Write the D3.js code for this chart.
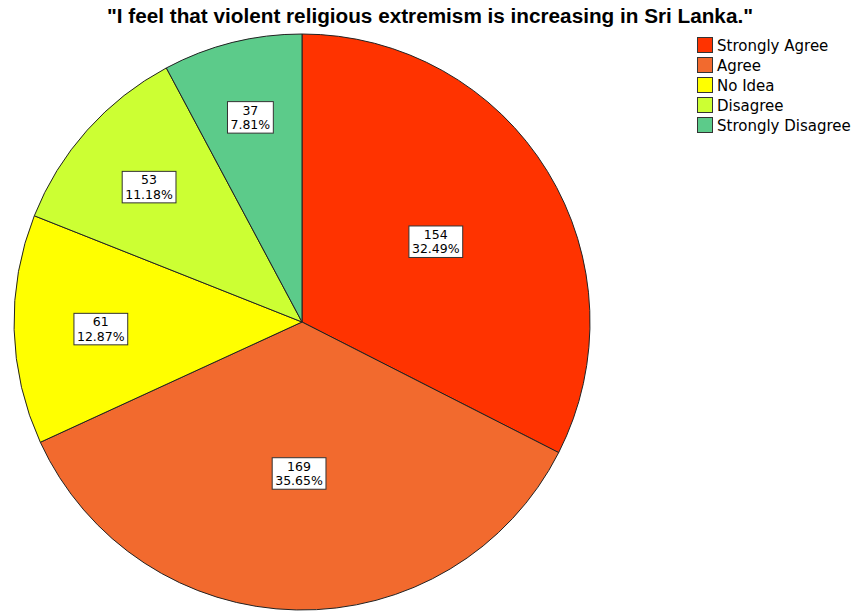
<!DOCTYPE html>
<html><head><meta charset="utf-8">
<script src="https://cdn.jsdelivr.net/npm/d3@7"></script>
<style>body{margin:0;background:#fff}svg{display:block}</style>
</head><body>
<svg id="c" width="859" height="612"></svg>
<script>
const title = '"I feel that violent religious extremism is increasing in Sri Lanka."';
const categories = ["Strongly Agree","Agree","No Idea","Disagree","Strongly Disagree"];
const counts = [154,169,61,53,37];
const percents = ["32.49%","35.65%","12.87%","11.18%","7.81%"];
const colors = ["#ff3300","#f26a2e","#ffff00","#ccff33","#5ccb8a"];

const svg = d3.select("#c");
const cx = 302, cy = 322, R = 288;

svg.append("text").attr("x",430).attr("y",23).attr("text-anchor","middle")
  .attr("font-family","Liberation Sans, Arial, sans-serif").attr("font-weight","bold")
  .attr("font-size",20).attr("textLength",646).attr("lengthAdjust","spacingAndGlyphs")
  .attr("fill","#000").text(title);

const pie = d3.pie().sort(null).value(d=>d)(counts);
const arc = d3.arc().innerRadius(0).outerRadius(R);
const g = svg.append("g").attr("transform",`translate(${cx},${cy})`);
g.selectAll("path").data(pie).join("path")
  .attr("d",arc).attr("fill",(d,i)=>colors[i])
  .attr("stroke","#222").attr("stroke-width",1);

pie.forEach((d,i)=>{
  const half = (d.endAngle-d.startAngle)/2;
  const mid = d.startAngle+half;
  const k = 0.80 - 0.25*half;
  const x = Math.sin(mid)*R*k, y = -Math.cos(mid)*R*k;
  const lg = g.append("g").attr("transform",`translate(${x},${y+2})`);
  const t = lg.append("text").attr("text-anchor","middle")
    .attr("font-family","DejaVu Sans, sans-serif").attr("font-size",12.5).attr("fill","#000");
  t.append("tspan").attr("x",0).attr("y",-3).text(counts[i]);
  t.append("tspan").attr("x",0).attr("y",11.5).text(percents[i]);
  const bb = t.node().getBBox();
  lg.insert("rect","text").attr("x",bb.x-3).attr("y",bb.y-1)
    .attr("width",bb.width+6).attr("height",bb.height+2)
    .attr("fill","#fff").attr("stroke","#333").attr("stroke-width",1);
});

const leg = svg.append("g").attr("transform","translate(697,37)");
categories.forEach((c,i)=>{
  const r = leg.append("g").attr("transform",`translate(0,${i*20})`);
  r.append("rect").attr("x",0.5).attr("y",0.5).attr("width",15).attr("height",15)
    .attr("fill",colors[i]).attr("stroke","#333").attr("stroke-width",1);
  r.append("text").attr("x",20).attr("y",13.5)
    .attr("font-family","DejaVu Sans, sans-serif").attr("font-size",15).attr("fill","#000").text(c);
});
</script>
</body></html>
